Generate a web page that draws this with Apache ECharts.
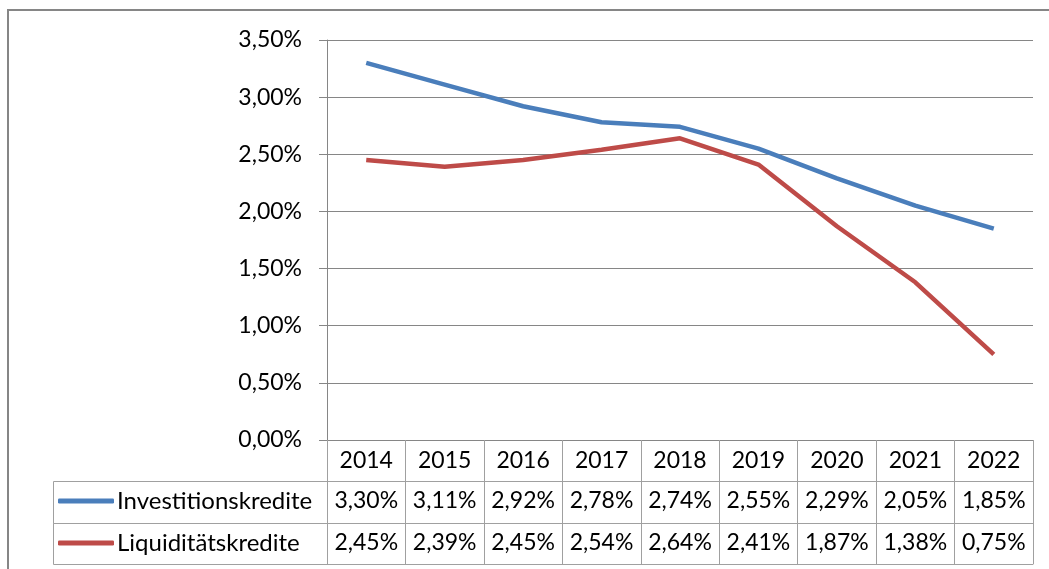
<!DOCTYPE html>
<html>
<head>
<meta charset="utf-8">
<script src="https://cdn.jsdelivr.net/npm/echarts@6/dist/echarts.min.js"></script>
<style>
  html, body { margin: 0; padding: 0; background: #fff; }
  #chart { width: 1049px; height: 569px; }
</style>
</head>
<body>
<div id="chart"></div>
<script>
var years = ['2014', '2015', '2016', '2017', '2018', '2019', '2020', '2021', '2022'];
var investNames = 'Investitionskredite';
var liquidNames = 'Liquiditätskredite';
var invest = [3.30, 3.11, 2.92, 2.78, 2.74, 2.55, 2.29, 2.05, 1.85];
var liquid = [2.45, 2.39, 2.45, 2.54, 2.64, 2.41, 1.87, 1.38, 0.75];
var yTicks = { min: 0, max: 3.5, step: 0.5 };

var FONT = 'Lato';
var FS = 23;
var GRID = '#868686';
var CELL = '#a0a0a0';

function pct(v) {
  return v.toFixed(2).replace('.', ',') + '%';
}

var chart = echarts.init(document.getElementById('chart'), null, { renderer: 'canvas' });

function rowAxis(vals, offset) {
  return {
    type: 'category',
    data: years,
    position: 'bottom',
    offset: offset,
    gridIndex: 0,
    axisLine: { show: true, lineStyle: { color: CELL, width: 1 } },
    axisTick: { show: false },
    splitLine: { show: false },
    axisLabel: {
      show: vals != null,
      margin: 20,
      verticalAlign: 'middle',
      fontFamily: FONT,
      fontSize: FS,
      color: '#000',
      interval: 0,
      formatter: function (v, i) { return vals ? pct(vals[i]) : ''; }
    }
  };
}

function legendRow(name, top) {
  return {
    data: [name],
    left: 58, top: top, padding: 0,
    icon: 'roundRect', itemWidth: 56, itemHeight: 5,
    textStyle: { fontFamily: FONT, fontSize: 24, color: '#000', lineHeight: 26, padding: [0, 0, 0, -2] }
  };
}

var option = {
  animation: false,
  backgroundColor: '#fff',
  grid: { left: 327, right: 16, top: 40, bottom: 129, containLabel: false },
  xAxis: [
    {
      type: 'category',
      data: years,
      position: 'bottom',
      boundaryGap: true,
      axisLine: { show: true, lineStyle: { color: GRID, width: 1 } },
      axisTick: { show: true, length: 124, lineStyle: { color: CELL, width: 1 } },
      axisLabel: {
        margin: 21,
        verticalAlign: 'middle',
        fontFamily: FONT,
        fontSize: FS,
        color: '#000',
        interval: 0
      }
    },
    rowAxis(invest, 41),
    rowAxis(liquid, 83),
    rowAxis(null, 124)
  ],
  yAxis: {
    type: 'value',
    min: yTicks.min,
    max: yTicks.max,
    interval: yTicks.step,
    axisLine: { show: true, lineStyle: { color: GRID, width: 1 } },
    axisTick: { show: true, length: 8, lineStyle: { color: GRID } },
    splitLine: { show: true, lineStyle: { color: GRID, width: 1 } },
    axisLabel: {
      margin: 25,
      fontFamily: FONT,
      fontSize: FS,
      color: '#000',
      formatter: function (v) { return pct(v); }
    }
  },
  legend: [
    legendRow(investNames, 488),
    legendRow(liquidNames, 530)
  ],
  graphic: [
    {
      type: 'rect', silent: true, z: -1,
      shape: { x: 8, y: 10, width: 1100, height: 600 },
      style: { fill: 'none', stroke: GRID, lineWidth: 2 }
    },
    {
      type: 'rect', silent: true,
      shape: { x: 53.5, y: 481.5, width: 274, height: 42 },
      style: { fill: 'none', stroke: CELL, lineWidth: 1 }
    },
    {
      type: 'rect', silent: true,
      shape: { x: 53.5, y: 523.5, width: 274, height: 41 },
      style: { fill: 'none', stroke: CELL, lineWidth: 1 }
    }
  ],
  series: [
    {
      name: investNames,
      type: 'line',
      data: invest,
      symbol: 'none',
      lineStyle: { color: '#4a7ebb', width: 4.5 },
      itemStyle: { color: '#4a7ebb' }
    },
    {
      name: liquidNames,
      type: 'line',
      data: liquid,
      symbol: 'none',
      lineStyle: { color: '#be4b48', width: 4.5 },
      itemStyle: { color: '#be4b48' }
    }
  ]
};

chart.setOption(option);
</script>
</body>
</html>
